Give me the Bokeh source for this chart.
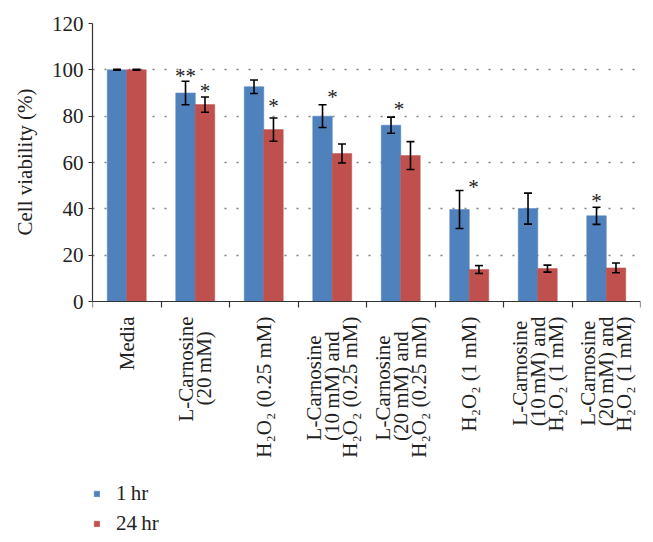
import math
from bokeh.plotting import figure
from bokeh.models import (Range1d, FixedTicker, ColumnDataSource, Whisker, TeeHead,
                          Legend, LegendItem, Title)
from bokeh.core.properties import value
from bokeh.embed import file_html
from bokeh.resources import INLINE

EN = "\u2002"
TH = "\u2009"
# ---- data ----
categories = [
    "Media",
    "L-Carnosine\n(20" + TH + "mM)" + EN + TH,
    "H\u2082O\u2082 (0.25 mM)",
    "L-Carnosine" + EN + TH + TH + "\n(10" + TH + "mM) and" + EN + TH + "\nH\u2082O\u2082 (0.25 mM)",
    "L-Carnosine" + EN + TH + TH + "\n(20" + TH + "mM) and" + EN + TH + "\nH\u2082O\u2082 (0.25 mM)",
    "H\u2082O\u2082 (1 mM)",
    "L-Carnosine" + TH + "\n(10" + TH + "mM) and\nH\u2082O\u2082 (1 mM)",
    "L-Carnosine" + TH + "\n(20" + TH + "mM) and\nH\u2082O\u2082 (1 mM)",
]
series_names = ["1\u2009hr", "24\u2009hr"]
hr1 = [100, 90, 92.7, 80, 76.1, 39.7, 40.1, 37]
hr1_err = [0.2, 5.1, 2.9, 4.9, 3.5, 8.2, 6.7, 3.7]
hr24 = [100, 85, 74.2, 63.9, 63, 13.8, 14.2, 14.5]
hr24_err = [0.2, 3.3, 5.0, 4.1, 6.0, 1.7, 1.5, 2.1]
# significance marks: (category index, series index, text)
sig_cat = [1, 1, 2, 3, 4, 5, 7]
sig_series = [0, 1, 1, 0, 0, 0, 0]
sig_text = ["**", "*", "*", "*", "*", "*", "*"]
y_ticks = [0, 20, 40, 60, 80, 100, 120]
y_label = "Cell viability (%)"

# ---- style ----
FONT = "Liberation Serif"
BLUE = "#4F81BD"
RED = "#C0504D"
DODGE = 0.142
BAR_W = 0.285
sig_dx = [0, 0, 0, 10, 8, 14, 0]
sig_dy = [-5, -6, -12, -8, -8, -4, -6]

n = len(categories)
centers = [i + 0.5 for i in range(n)]

# frame extends to the bottom of the page so that the legend can sit inside it;
# the value axis itself spans 0..120 over the top 278 px
PLOT_H = 278
FRAME_H = 519
Y_MAX = y_ticks[-1]
y_min = -Y_MAX * (FRAME_H - PLOT_H) / PLOT_H

p = figure(frame_width=548, frame_height=FRAME_H, x_range=Range1d(0, n),
           y_range=Range1d(y_min, Y_MAX),
           output_backend="svg", toolbar_location=None,
           min_border_left=91, min_border_right=14, min_border_top=23, min_border_bottom=0)
p.outline_line_color = None
p.background_fill_color = "white"
p.border_fill_color = "white"

series_vals = [hr1, hr24]
series_errs = [hr1_err, hr24_err]
colors = [BLUE, RED]
offsets = [-DODGE, DODGE]
renderers = []
for vals, errs, col, off in zip(series_vals, series_errs, colors, offsets):
    xs = [c + off for c in centers]
    src = ColumnDataSource(dict(x=xs, top=vals,
                                upper=[v + e for v, e in zip(vals, errs)],
                                lower=[v - e for v, e in zip(vals, errs)]))
    r = p.vbar(x="x", top="top", width=BAR_W, bottom=0, source=src,
               fill_color=col, line_color=col, line_width=0.5)
    renderers.append(r)
    w = Whisker(base="x", upper="upper", lower="lower", source=src,
                line_color="black", line_width=1.6, level="annotation",
                upper_head=TeeHead(size=8, line_color="black", line_width=1.6),
                lower_head=TeeHead(size=8, line_color="black", line_width=1.6))
    p.add_layout(w)

# asterisks
sx, sy = [], []
for c, s in zip(sig_cat, sig_series):
    sx.append(centers[c] + offsets[s])
    sy.append(series_vals[s][c] + series_errs[s][c])
ast_src = ColumnDataSource(dict(x=sx, y=sy, t=sig_text, dx=sig_dx, dy=sig_dy))
p.text(x="x", y="y", text="t", x_offset="dx", y_offset="dy", source=ast_src,
       text_font=value(FONT), text_font_size="21px", text_align="center",
       text_baseline="middle", text_color="#222222")

# y axis
p.yaxis.ticker = FixedTicker(ticks=y_ticks)
p.yaxis.bounds = (0, Y_MAX)
p.yaxis.major_label_text_font = FONT
p.yaxis.major_label_text_font_size = "21px"
p.yaxis.major_label_text_color = "#222222"
p.yaxis.major_label_standoff = 5
p.yaxis.major_tick_out = 4
p.yaxis.major_tick_in = 0
p.yaxis.minor_tick_out = 0
p.yaxis.axis_line_color = "#333333"
p.yaxis.major_tick_line_color = "#333333"
p.yaxis.axis_line_width = 1.2

ytitle = Title(text=y_label, align="right", offset=65, vertical_align="middle",
               standoff=22, text_font=FONT, text_font_size="21px",
               text_font_style="normal", text_color="#222222")
p.add_layout(ytitle, "left")

# x axis drawn at y = 0
p.xaxis.fixed_location = 0
p.xaxis.ticker = FixedTicker(ticks=centers, minor_ticks=list(range(n + 1)))
p.xaxis.major_label_overrides = {c: lab for c, lab in zip(centers, categories)}
p.xaxis.major_label_orientation = math.pi / 2
p.xaxis.major_label_text_font = FONT
p.xaxis.major_label_text_font_size = "21px"
p.xaxis.major_label_text_color = "#222222"
p.xaxis.major_label_text_line_height = 0.76
p.xaxis.major_label_standoff = 9
p.xaxis.major_tick_out = 0
p.xaxis.major_tick_in = 0
p.xaxis.minor_tick_out = 6
p.xaxis.minor_tick_in = 0
p.xaxis.minor_tick_line_color = "#333333"
p.xaxis.minor_tick_line_width = 1.2
p.xaxis.axis_line_color = "#333333"
p.xaxis.axis_line_width = 1.2

p.xgrid.grid_line_color = None
p.ygrid.ticker = FixedTicker(ticks=y_ticks[1:])
p.ygrid.grid_line_color = "#808080"
p.ygrid.grid_line_dash = "2 10"
p.ygrid.grid_line_width = 1.5

legend = Legend(items=[LegendItem(label=series_names[0], renderers=[renderers[0]]),
                       LegendItem(label=series_names[1], renderers=[renderers[1]])],
                location=(1, 6), orientation="vertical",
                glyph_width=7, glyph_height=7, label_standoff=16, spacing=5,
                padding=0, margin=0, border_line_color=None,
                background_fill_alpha=0,
                label_text_font=FONT, label_text_font_size="21px",
                label_text_color="#222222")
p.add_layout(legend, "center")

open("out.html", "w").write(file_html(p, INLINE))
